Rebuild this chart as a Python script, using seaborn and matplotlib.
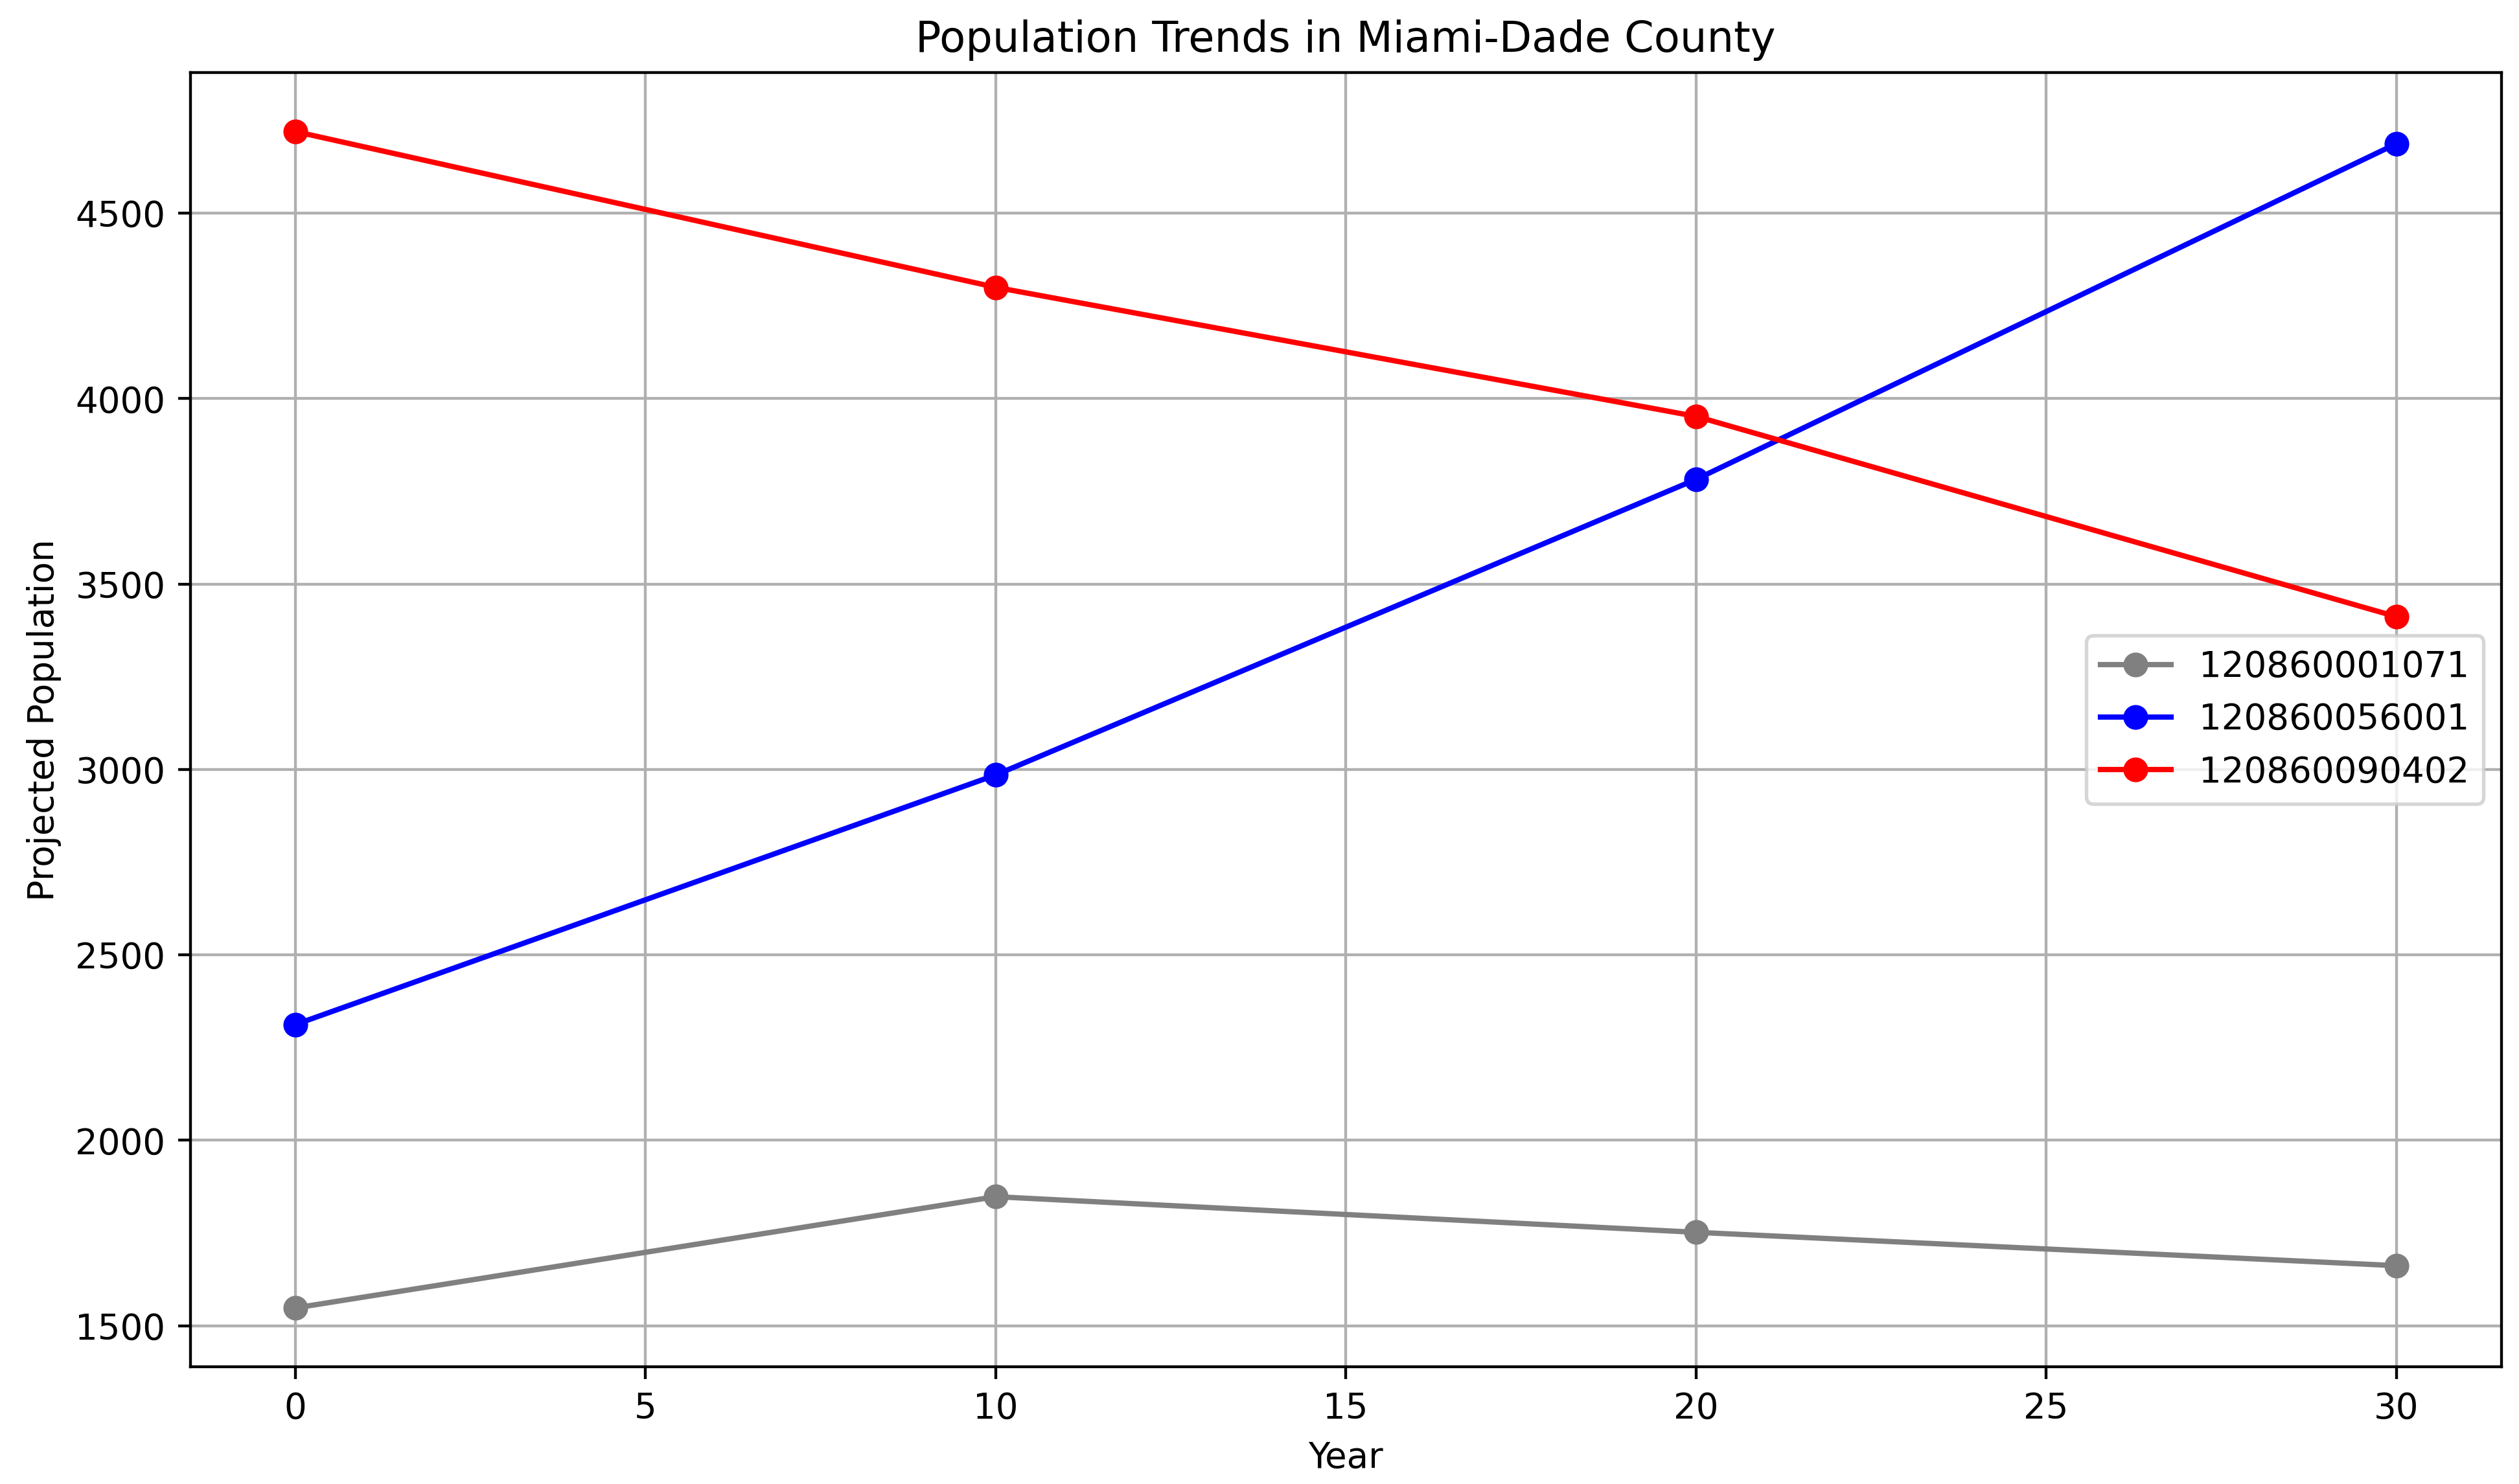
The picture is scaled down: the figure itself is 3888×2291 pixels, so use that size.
import matplotlib
matplotlib.use("Agg")
import matplotlib.pyplot as plt
import seaborn as sns
import pandas as pd

years = [0, 10, 20, 30]
series_names = ["120860001071", "120860056001", "120860090402"]
pop_001071 = [1548, 1848, 1752, 1662]
pop_056001 = [2312, 2985, 3782, 4687]
pop_090402 = [4720, 4300, 3952, 3412]
colors = ["gray", "blue", "red"]

rows = []
for name, vals in zip(series_names, [pop_001071, pop_056001, pop_090402]):
    for y, v in zip(years, vals):
        rows.append({"Year": y, "Projected Population": v, "Tract": name})
df = pd.DataFrame(rows)

plt.rcParams['font.family'] = ['DejaVu Sans']
DPI = 393
fig = plt.figure(figsize=(3888 / DPI, 2291 / DPI), dpi=DPI)
ax = fig.add_axes([0.0755, 0.079, 0.9175, 0.872])
sns.lineplot(data=df, x="Year", y="Projected Population", hue="Tract",
             palette=dict(zip(series_names, colors)), hue_order=series_names,
             marker="o", markersize=7, markeredgewidth=0, linewidth=1.5, ax=ax)
ax.grid(True, color="#b0b0b0", linewidth=0.8)
ax.set_axisbelow(True)
ax.set_title("Population Trends in Miami-Dade County")
ax.set_xlabel("Year")
ax.set_ylabel("Projected Population")
sns.move_legend(ax, "center right", title=None)
fig.savefig("out.png", dpi=DPI)
